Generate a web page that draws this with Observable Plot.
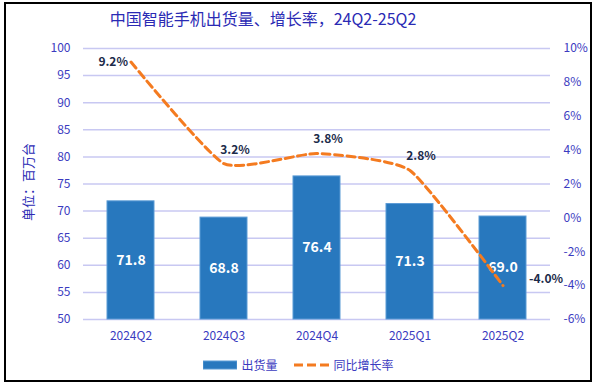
<!DOCTYPE html>
<html><head><meta charset="utf-8">
<script src="https://cdn.jsdelivr.net/npm/d3@7"></script>
<script src="https://cdn.jsdelivr.net/npm/@observablehq/plot@0.6"></script>
<style>
body{margin:0;background:#fff;font-family:"Noto Sans CJK SC","Noto Sans",sans-serif;}
#wrap{position:relative;width:597px;height:387px;overflow:hidden;}
#frame{position:absolute;left:4px;top:2px;width:588px;height:380px;border:2px solid #000;box-sizing:border-box;}
#title{position:absolute;left:0;top:7px;width:526px;text-align:center;font-size:16px;color:#2a2ab4;line-height:22px;}
#chart{position:absolute;left:0;top:30px;}
#ylab{position:absolute;left:27px;top:182px;transform:translate(-50%,-50%) rotate(-90deg);font-size:13px;color:#2a2ab4;white-space:nowrap;}
#legend{position:absolute;top:356px;left:0;width:597px;display:flex;justify-content:center;align-items:center;font-size:12px;color:#3b3bbf;gap:4px;}
#legend .item{display:flex;align-items:center;gap:4px;margin:0 6px;}
</style></head>
<body>
<div id="wrap">
<div id="frame"></div>
<div id="title">中国智能手机出货量、增长率，24Q2-25Q2</div>
<div id="chart"></div>
<div id="ylab">单位：百万台</div>
<div id="legend">
  <div class="item"><svg width="34" height="10"><rect x="0" y="1" width="34" height="8" fill="#2878be" stroke="#5b9bd5"/></svg><span>出货量</span></div>
  <div class="item"><svg width="36" height="10"><line x1="0" y1="5" x2="36" y2="5" stroke="#f47b20" stroke-width="3" stroke-dasharray="9,4"/></svg><span>同比增长率</span></div>
</div>
</div>
<script>
const quarters = ["2024Q2","2024Q3","2024Q4","2025Q1","2025Q2"];
const shipments = [71.8, 68.8, 76.4, 71.3, 69.0];
const growth = [9.2, 3.2, 3.8, 2.8, -4.0];
const yDomain = [50, 100];
const yTicks = [50,55,60,65,70,75,80,85,90,95,100];
const pctDomain = [-6, 10];
const pctTicks = [-6,-4,-2,0,2,4,6,8,10];

const toY = p => yDomain[0] + (p - pctDomain[0]) / (pctDomain[1] - pctDomain[0]) * (yDomain[1] - yDomain[0]);
const fromY = v => pctDomain[0] + (v - yDomain[0]) / (yDomain[1] - yDomain[0]) * (pctDomain[1] - pctDomain[0]);

const data = quarters.map((q, i) => ({q, s: shipments[i], g: growth[i], gy: toY(growth[i]), i}));

const axisColor = "#3b3bbf";
const gridColor = "#c8c8f2";
const labelColor = "#1c2b4a";

const chart = Plot.plot({
  width: 597,
  height: 320,
  marginTop: 18,
  marginBottom: 31,
  marginLeft: 83,
  marginRight: 47,
  style: {fontFamily: '"Noto Sans CJK SC","Noto Sans",sans-serif', fontSize: "12px", background: "transparent"},
  x: {type: "band", domain: quarters, paddingInner: 0.5, paddingOuter: 0.25, label: null},
  y: {domain: yDomain, label: null},
  marks: [
    Plot.gridY(yTicks, {stroke: gridColor, strokeOpacity: 1, strokeWidth: 1.5}),
    Plot.axisY(yTicks, {anchor: "left", tickSize: 0, tickPadding: 13, color: axisColor, fontSize: 12, label: null}),
    Plot.axisY(pctTicks.map(toY), {anchor: "right", tickSize: 0, tickPadding: 13, color: axisColor, fontSize: 12, label: null,
      tickFormat: v => Math.round(fromY(v)) + "%", textAnchor: "start"}),
    Plot.axisX({tickSize: 0, tickPadding: 12, color: axisColor, fontSize: 12, label: null}),
    Plot.barY(data, {x: "q", y1: () => yDomain[0], y2: "s", fill: "#2878be", stroke: "#5b9bd5", strokeWidth: 1}),
    Plot.text(data, {x: "q", y: d => (d.s + yDomain[0]) / 2, text: d => d.s.toFixed(1), fill: "#fff", fontWeight: "bold", fontSize: 14}),
    Plot.line(data, {x: "q", y: "gy", stroke: "#f47b20", strokeWidth: 3, strokeDasharray: "8,4.5", curve: "cardinal", tension: 0.5}),
    Plot.text(data.filter(d => d.i === 0), {x: "q", y: "gy", text: d => d.g.toFixed(1) + "%", textAnchor: "end", dx: -3, fill: labelColor, fontWeight: "bold", fontSize: 12}),
    Plot.text(data.filter(d => d.i > 0 && d.i < 4), {x: "q", y: "gy", text: d => d.g.toFixed(1) + "%", dx: 11, dy: -14, fill: labelColor, fontWeight: "bold", fontSize: 12}),
    Plot.text(data.filter(d => d.i === 4), {x: "q", y: "gy", text: d => d.g.toFixed(1) + "%", textAnchor: "start", dx: 26, dy: -6, fill: labelColor, fontWeight: "bold", fontSize: 12})
  ]
});
document.getElementById("chart").appendChild(chart);
</script>
</body></html>
